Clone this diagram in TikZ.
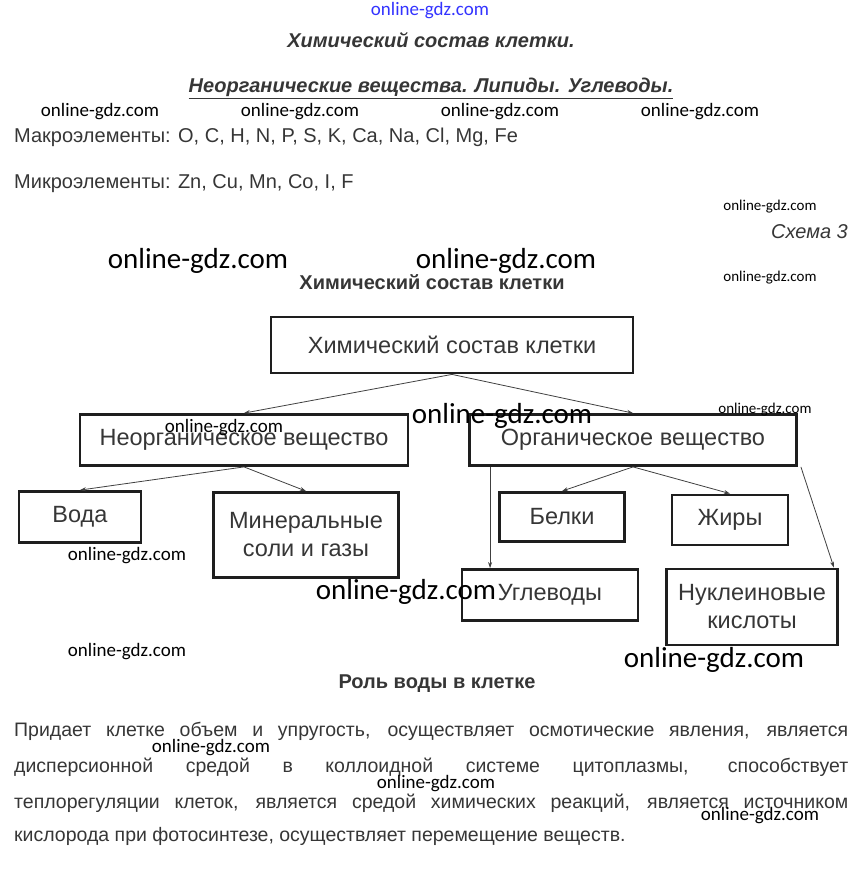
\documentclass[tikz,border=0pt]{standalone}
\usepackage{fontspec}
\setmainfont{Liberation Sans}
\newfontfamily\wmfont{Carlito}
\usetikzlibrary{arrows.meta,positioning,calc}
\usepackage{xcolor}
\definecolor{Ink}{HTML}{363636}
\definecolor{Edge}{HTML}{1E1E1E}
\newcommand{\WM}[4]{%
  \node[wm,font=\wmfont\fontsize{#3}{#3}\selectfont] (#4) at (#1,#2) {online-gdz.com};%
}
\begin{document}
\begin{tikzpicture}[x=1pt,y=-1pt,
  box/.style={draw=Edge,line width=2.8pt,inner sep=2pt,align=center,
    text=Ink,font=\fontsize{23.5}{28}\selectfont},
  arr/.style={draw=Edge!85,line width=0.8pt,-{Stealth[length=6pt,width=4pt]}},
  wm/.style={text=black,inner sep=0pt},
  txt/.style={text=Ink,inner sep=0pt,font=\fontsize{20}{24}\selectfont}]
\useasboundingbox (0,0) rectangle (860,893);
% header
\node[text=blue!80,inner sep=0pt,font=\wmfont\fontsize{19}{19}\selectfont] (wmtop) at (430,11) {online-gdz.com};
\node[txt,font=\fontsize{20}{24}\selectfont\bfseries\itshape] (title) at (431,40) {Химический состав клетки.};
\node[txt,font=\fontsize{20}{24}\selectfont\bfseries\itshape] (subtitle) at (431,88) {\underline{Неорганические вещества. Липиды. Углеводы.}};
\foreach \x/\n in {100/a,300/b,500/c,700/d} {
  \WM{\x}{112}{19}{wm\n}
}
\node[txt,anchor=west] (macro) at (14,137) {Макроэлементы: O, C, H, N, P, S, K, Ca, Na, Cl, Mg, Fe};
\node[txt,anchor=west] (micro) at (14,184) {Микроэлементы: Zn, Cu, Mn, Co, I, F};
\WM{770}{207}{15}{wme}
\node[txt,anchor=east,font=\fontsize{20}{24}\selectfont\itshape] (schema) at (848,232) {Схема 3};
\WM{198}{261}{29}{wmf}
\WM{506}{261}{29}{wmg}
\WM{770}{278}{15}{wmh}
\node[txt,font=\fontsize{20}{24}\selectfont\bfseries] (head) at (432,282) {Химический состав клетки};
% scheme
\node[box,minimum width=362pt,minimum height=56pt] (chem) at (452,345) {Химический состав клетки};
\node[box,minimum width=328pt,minimum height=51pt] (inorg) at (244,440) {Неорганическое вещество};
\node[box,minimum width=327pt,minimum height=51pt] (org) at (633,440) {Органическое вещество};
\node[box,minimum width=122pt,minimum height=51pt] (voda) at (80,517) {Вода};
\node[box,minimum width=185pt,minimum height=85pt] (miner) at (306,535) {Минеральные\\соли и газы};
\node[box,minimum width=125pt,minimum height=49pt] (belki) at (562,517) {Белки};
\node[box,minimum width=116pt,minimum height=50pt] (zhiry) at (730,520) {Жиры};
\node[box,minimum width=176pt,minimum height=51pt] (uglev) at (550,595) {Углеводы};
\node[box,minimum width=171pt,minimum height=76pt] (nukl) at (752,607) {Нуклеиновые\\кислоты};
\draw[arr] (chem.south) -- (inorg.north);
\draw[arr] (chem.south) -- (org.north);
\draw[arr] (inorg.south) -- (voda.north);
\draw[arr] (inorg.south) -- (miner.north);
\draw[arr] (org.south) -- (belki.north);
\draw[arr] (org.south) -- (zhiry.north);
\draw[arr] ([xshift=22pt]org.south west) -- ([xshift=22pt]org.south west |- uglev.north);
\draw[arr] ([xshift=3pt]org.south east) -- ([xshift=-5pt]nukl.north east);
\WM{224}{428}{19}{wmi}
\WM{502}{416}{29}{wmj}
\WM{765}{410}{15}{wmk}
\WM{127}{556}{19}{wml}
\WM{406}{592}{29}{wmm}
\WM{127}{652}{19}{wmn}
\WM{714}{660}{29}{wmo}
% water
\node[txt,font=\fontsize{20}{24}\selectfont\bfseries] (role) at (437,684) {Роль воды в клетке};
\node[txt,anchor=west,font=\fontsize{19.5}{24}\selectfont] (lineA) at (14,731) {\makebox[834pt][s]{Придает клетке объем и упругость, осуществляет осмотические явления, является}};
\node[txt,anchor=west,font=\fontsize{19.5}{24}\selectfont] (lineB) at (14,767) {\makebox[834pt][s]{дисперсионной средой в коллоидной системе цитоплазмы, способствует}};
\node[txt,anchor=west,font=\fontsize{19.5}{24}\selectfont] (lineC) at (14,803) {\makebox[834pt][s]{теплорегуляции клеток, является средой химических реакций, является источником}};
\node[txt,anchor=west,font=\fontsize{19.5}{24}\selectfont] (lineD) at (14,836) {кислорода при фотосинтезе, осуществляет перемещение веществ.};
\WM{211}{748}{19}{wmp}
\WM{436}{784}{19}{wmq}
\WM{760}{816}{19}{wmr}
\end{tikzpicture}
\end{document}
